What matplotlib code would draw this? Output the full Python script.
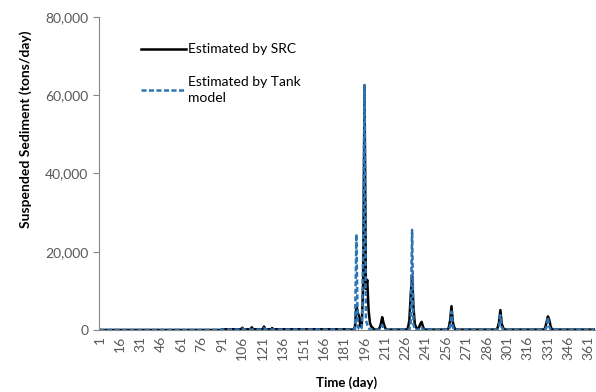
import numpy as np
import matplotlib.pyplot as plt
from matplotlib.ticker import FuncFormatter

# days of the year (categories 1..365)
n_days = 365
tick_days = list(range(1, 366, 15))

# low-flow level by segment (start day, level)
seg_start = [1, 91, 186]
seg_src = [30, 200, 120]
seg_tank = [40, 150, 100]

# SRC estimate: visible events (day, tons/day)
src_days = [106, 113, 122, 128,
            189, 190, 191, 192, 193, 194, 195, 196, 197, 198, 199, 200, 201, 202,
            207, 208, 209, 210, 211,
            228, 229, 230, 231, 232, 233, 234, 236, 237, 238, 239,
            258, 259, 260, 261, 262,
            294, 295, 296, 297, 298,
            329, 330, 331, 332, 333]
src_vals = [600, 700, 900, 500,
            900, 6400, 4500, 3500, 900, 1500, 12000, 62500, 10500, 12800, 5000, 1800, 900, 600,
            500, 1500, 3300, 1800, 700,
            600, 2500, 9000, 13800, 6000, 1500, 700, 600, 1500, 2100, 900,
            600, 2500, 6100, 2000, 700,
            600, 2000, 5100, 1600, 600,
            600, 2000, 3500, 2600, 900]

# Tank model estimate: visible events
tank_days = [106, 122,
             189, 190, 191, 192, 194, 195, 196, 197, 198, 199,
             208, 209, 210,
             230, 231, 232, 237, 238,
             259, 260, 261, 295, 296, 297, 330, 331, 332]
tank_vals = [400, 500,
             300, 24500, 900, 300, 600, 20000, 62600, 2500, 1400, 600,
             600, 1300, 500,
             2000, 25600, 1500, 400, 800,
             900, 4700, 800, 700, 3800, 700, 800, 3300, 900]


def build(levels, days, vals):
    s = np.zeros(n_days)
    for i, start in enumerate(seg_start):
        s[start - 1:] = levels[i]
    for d, v in zip(days, vals):
        s[d - 1] = v
    return s


x = np.arange(1, n_days + 1)
src = build(seg_src, src_days, src_vals)
tank = build(seg_tank, tank_days, tank_vals)

plt.rcParams['font.family'] = ['Lato', 'DejaVu Sans']

fig = plt.figure(figsize=(5.96, 3.92), dpi=100)
ax = fig.add_axes([0.166, 0.158, 0.832, 0.799])

ax.plot(x, src, color="black", linewidth=1.8, label="Estimated by SRC")
ax.plot(x, tank, color="#2e75b6", linewidth=1.8, linestyle=(0, (2.0, 1.0)),
        label="Estimated by Tank\nmodel")

ax.set_xlim(0.5, 365.5)
ax.set_ylim(0, 80000)
ax.set_yticks(range(0, 80001, 20000))
ax.yaxis.set_major_formatter(FuncFormatter(lambda v, p: f"{int(v):,}"))
ax.set_xticks(tick_days)
ax.set_xticklabels([str(d) for d in tick_days], rotation=90)

for side in ["top", "right"]:
    ax.spines[side].set_visible(False)
for side in ["left", "bottom"]:
    ax.spines[side].set_color("#868686")
ax.tick_params(axis="y", colors="#868686", labelcolor="#595959", labelsize=10, length=4)
ax.tick_params(axis="x", length=0, labelcolor="#595959", labelsize=10, pad=4)

ax.set_xlabel("Time (day)", fontweight="bold", fontsize=9.5, labelpad=12)
ax.set_ylabel("Suspended Sediment (tons/day)", fontweight="bold", fontsize=10)
ax.yaxis.set_label_coords(-0.135, 0.64)

leg = ax.legend(loc="upper left", bbox_to_anchor=(0.06, 0.955), frameon=False,
                handlelength=3.2, handletextpad=0.15, labelspacing=1.5, fontsize=10)
for t in leg.get_texts():
    t.set_linespacing(1.4)

fig.savefig("out.png", dpi=100)
